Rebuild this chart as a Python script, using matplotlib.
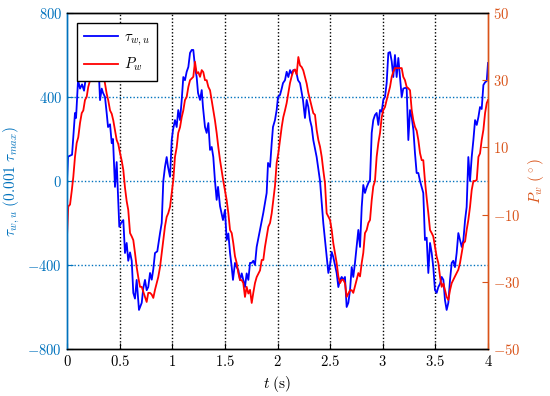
import matplotlib
matplotlib.use("Agg")
import matplotlib.pyplot as plt
from matplotlib.ticker import FuncFormatter

# ---------------- DATA ----------------

t_tau = [0.000, 0.010, 0.048, 0.076, 0.086, 0.105, 0.124, 0.143, 0.162, 0.181,
         0.200, 0.219, 0.238, 0.266, 0.285, 0.304, 0.314, 0.330, 0.342, 0.361,
         0.377, 0.390, 0.409, 0.425, 0.437, 0.456, 0.472, 0.497, 0.513, 0.535,
         0.551, 0.567, 0.582, 0.599, 0.615, 0.630, 0.646, 0.662, 0.684, 0.710,
         0.725, 0.741, 0.757, 0.772, 0.789, 0.805, 0.820, 0.836, 0.858, 0.884,
         0.900, 0.915, 0.931, 0.947, 0.960, 0.979, 0.995, 1.007, 1.026, 1.042,
         1.057, 1.074, 1.090, 1.105, 1.121, 1.137, 1.153, 1.169, 1.185, 1.200,
         1.216, 1.232, 1.245, 1.264, 1.280, 1.292, 1.311, 1.327, 1.343, 1.359,
         1.375, 1.390, 1.406, 1.422, 1.435, 1.454, 1.482, 1.501, 1.517, 1.533,
         1.549, 1.565, 1.577, 1.596, 1.612, 1.628, 1.644, 1.660, 1.691, 1.707,
         1.723, 1.739, 1.755, 1.770, 1.786, 1.802, 1.834, 1.865, 1.897, 1.905,
         1.910, 1.929, 1.945, 1.957, 1.976, 1.992, 2.005, 2.024, 2.040, 2.052,
         2.071, 2.087, 2.103, 2.119, 2.135, 2.150, 2.166, 2.182, 2.195, 2.214,
         2.230, 2.242, 2.261, 2.277, 2.293, 2.309, 2.325, 2.340, 2.372, 2.404,
         2.435, 2.467, 2.483, 2.499, 2.515, 2.530, 2.546, 2.562, 2.578, 2.594,
         2.610, 2.625, 2.641, 2.657, 2.673, 2.689, 2.705, 2.720, 2.736, 2.752,
         2.768, 2.784, 2.800, 2.815, 2.831, 2.847, 2.863, 2.879, 2.895, 2.910,
         2.926, 2.942, 2.958, 2.974, 2.990, 3.005, 3.021, 3.037, 3.053, 3.069,
         3.085, 3.100, 3.116, 3.132, 3.148, 3.164, 3.180, 3.195, 3.211, 3.227,
         3.243, 3.259, 3.275, 3.291, 3.306, 3.322, 3.338, 3.354, 3.385, 3.401,
         3.417, 3.433, 3.449, 3.465, 3.480, 3.496, 3.512, 3.528, 3.544, 3.560,
         3.576, 3.591, 3.607, 3.623, 3.639, 3.655, 3.670, 3.686, 3.702, 3.718,
         3.734, 3.750, 3.766, 3.782, 3.797, 3.813, 3.829, 3.845, 3.861, 3.877,
         3.893, 3.909, 3.924, 3.940, 3.956, 3.972, 3.988, 4.000]
tau_wu = [0, 116, 125, 324, 300, 480, 440, 460, 430, 500,
          560, 560, 600, 560, 520, 500, 385, 440, 420, 400,
          324, 257, 270, 180, 200, -28, 90, -218, -200, -186,
          -343, -295, -380, -340, -380, -533, -560, -471, -614, -580,
          -510, -471, -520, -505, -438, -470, -420, -343, -335, -248,
          -200, 0, 67, 114, 67, 20, 195, 243, 290, 257,
          338, 290, 386, 495, 480, 520, 543, 610, 624, 624,
          543, 495, 419, 386, 433, 352, 257, 229, 276, 148,
          162, 114, 0, -90, -28, -120, -186, -138, -281, -250,
          -343, -410, -471, -390, -410, -424, -471, -440, -505, -440,
          -471, -390, -390, -380, -400, -314, -233, -152, -57, 30,
          86, 67, 181, 257, 290, 338, 400, 410, 440, 466,
          480, 520, 495, 528, 510, 528, 528, 510, 480, 466,
          419, 386, 300, 386, 352, 290, 257, 195, 114, 0,
          -200, -362, -438, -400, -338, -362, -400, -438, -505, -471,
          -457, -471, -457, -600, -580, -520, -410, -457, -390, -314,
          -233, -314, -124, -19, -57, -30, -10, 5, 229, 290,
          314, 324, 267, 338, 330, 386, 400, 466, 610, 614,
          570, 495, 600, 495, 586, 495, 400, 440, 443, 443,
          195, 338, 305, 243, 133, 38, 38, 0, -57, -281,
          -270, -438, -295, -343, -410, -519, -533, -505, -490, -457,
          -471, -567, -614, -580, -471, -390, -380, -410, -343, -248,
          -281, -314, -281, -186, -124, 114, 0, 114, 195, 290,
          267, 305, 352, 343, 457, 470, 476, 562]

t_pw = [0.000, 0.012, 0.029, 0.045, 0.060, 0.076, 0.092, 0.107, 0.124, 0.140,
        0.155, 0.171, 0.187, 0.202, 0.219, 0.235, 0.250, 0.266, 0.282, 0.297,
        0.314, 0.330, 0.345, 0.361, 0.377, 0.392, 0.409, 0.425, 0.440, 0.456,
        0.472, 0.487, 0.504, 0.520, 0.535, 0.551, 0.567, 0.582, 0.599, 0.615,
        0.630, 0.646, 0.662, 0.677, 0.694, 0.710, 0.725, 0.741, 0.757, 0.772,
        0.789, 0.805, 0.820, 0.836, 0.852, 0.867, 0.884, 0.900, 0.915, 0.931,
        0.947, 0.962, 0.979, 0.995, 1.010, 1.026, 1.042, 1.057, 1.074, 1.090,
        1.105, 1.121, 1.137, 1.153, 1.169, 1.185, 1.200, 1.216, 1.232, 1.248,
        1.264, 1.280, 1.295, 1.311, 1.327, 1.343, 1.359, 1.375, 1.390, 1.406,
        1.422, 1.438, 1.454, 1.470, 1.485, 1.517, 1.533, 1.549, 1.565, 1.580,
        1.596, 1.612, 1.628, 1.644, 1.660, 1.675, 1.691, 1.707, 1.723, 1.739,
        1.755, 1.770, 1.786, 1.802, 1.818, 1.834, 1.850, 1.865, 1.881, 1.897,
        1.913, 1.929, 1.945, 1.960, 1.976, 1.992, 2.008, 2.024, 2.040, 2.055,
        2.071, 2.087, 2.103, 2.119, 2.135, 2.150, 2.166, 2.182, 2.198, 2.214,
        2.230, 2.245, 2.261, 2.277, 2.293, 2.309, 2.325, 2.340, 2.356, 2.372,
        2.388, 2.404, 2.420, 2.435, 2.451, 2.467, 2.483, 2.499, 2.515, 2.530,
        2.546, 2.562, 2.578, 2.594, 2.610, 2.625, 2.641, 2.657, 2.673, 2.689,
        2.705, 2.720, 2.736, 2.752, 2.768, 2.784, 2.800, 2.815, 2.831, 2.847,
        2.863, 2.879, 2.895, 2.910, 2.926, 2.942, 2.958, 2.974, 2.990, 3.005,
        3.021, 3.037, 3.053, 3.069, 3.085, 3.100, 3.116, 3.132, 3.148, 3.164,
        3.180, 3.195, 3.211, 3.227, 3.243, 3.259, 3.275, 3.291, 3.306, 3.322,
        3.338, 3.354, 3.370, 3.385, 3.401, 3.417, 3.433, 3.449, 3.465, 3.480,
        3.496, 3.512, 3.528, 3.544, 3.560, 3.576, 3.591, 3.607, 3.623, 3.639,
        3.655, 3.670, 3.686, 3.702, 3.718, 3.734, 3.750, 3.766, 3.782, 3.797,
        3.813, 3.829, 3.845, 3.861, 3.877, 3.893, 3.909, 3.924, 3.940, 3.956,
        3.972, 3.988, 4.000]
p_w = [-16.6, -7.6, -7.0, -3.0, 1.2, 7.2, 11.3, 13.0, 17.3, 20.2,
       21.0, 24.1, 25.0, 28.0, 30.0, 31.0, 31.5, 32.4, 33.6, 33.0,
       33.0, 32.4, 32.0, 29.0, 26.0, 24.0, 21.0, 20.0, 18.0, 15.0,
       12.2, 11.0, 8.3, 6.0, 3.3, -2.0, -6.0, -8.6, -15.5, -16.5,
       -17.6, -21.4, -25.6, -28.6, -31.5, -31.5, -33.0, -34.5, -36.0, -33.3,
       -33.3, -33.8, -34.8, -32.4, -30.4, -28.6, -25.6, -21.5, -17.6, -13.5,
       -10.7, -9.6, -7.7, -3.6, 0.3, 7.2, 10.0, 14.3, 16.0, 19.0,
       21.0, 24.1, 25.0, 28.0, 30.0, 30.5, 31.0, 35.5, 32.0, 32.4,
       31.0, 33.0, 32.4, 30.0, 30.0, 28.0, 27.0, 24.0, 21.0, 18.0,
       14.3, 10.0, 6.2, 3.0, 0.0, -5.7, -9.6, -14.6, -15.5, -18.5,
       -22.4, -24.4, -27.4, -29.5, -29.5, -30.4, -34.5, -31.5, -33.5, -32.4,
       -36.3, -33.3, -30.4, -28.6, -27.6, -26.6, -23.5, -23.5, -19.6, -16.6,
       -13.6, -12.5, -9.6, -5.6, -1.5, 5.4, 8.3, 12.2, 16.1, 19.0,
       21.0, 23.2, 26.2, 29.2, 31.2, 32.7, 33.2, 31.7, 36.9, 34.4,
       33.9, 32.9, 31.0, 29.0, 26.2, 24.1, 22.1, 20.2, 19.7, 15.2,
       12.2, 10.2, 7.2, 3.2, -0.6, -9.6, -10.6, -11.6, -14.6, -18.5,
       -21.5, -24.4, -28.4, -30.4, -29.4, -29.4, -30.4, -34.5, -33.5, -32.5,
       -32.5, -33.3, -31.4, -29.4, -27.4, -28.4, -24.4, -21.4, -15.5, -14.6,
       -12.5, -11.6, -5.7, -1.6, 0.0, 7.2, 11.3, 14.3, 19.0, 21.1,
       22.0, 24.1, 26.0, 28.0, 31.0, 32.5, 33.6, 33.6, 33.6, 33.6,
       33.6, 31.0, 30.0, 28.0, 27.6, 27.0, 21.1, 18.0, 16.1, 15.0,
       12.2, 8.3, 6.2, 6.2, 0.0, -5.0, -9.6, -14.6, -15.5, -16.5,
       -19.6, -22.5, -24.4, -28.5, -31.5, -30.5, -32.5, -34.5, -35.4, -32.5,
       -30.4, -29.4, -28.4, -27.4, -26.4, -24.4, -21.4, -18.5, -18.0, -14.6,
       -11.6, -7.7, -2.7, 0.0, 0.0, 0.3, 7.2, 8.2, 12.2, 15.2,
       20.2, 23.2, 24.1]

x_ticks = [0, 0.5, 1, 1.5, 2, 2.5, 3, 3.5, 4]
left_ticks = [-800, -400, 0, 400, 800]
right_ticks = [-50, -30, -10, 10, 30, 50]

# ---------------- STYLE ----------------

plt.rcParams['font.family'] = 'serif'
plt.rcParams['font.serif'] = ['cmr10', 'DejaVu Serif']
plt.rcParams['mathtext.fontset'] = 'cm'
plt.rcParams['axes.formatter.use_mathtext'] = True

left_col = '#0072BD'
right_col = '#D95319'

fmt = FuncFormatter(lambda v, p: '$%g$' % v)

# ---------------- FIGURE ----------------

fig = plt.figure(figsize=(5.5, 3.96), dpi=100)
ax = fig.add_axes([0.1218, 0.1187, 0.7655, 0.8485])
ax2 = ax.twinx()

l1, = ax.plot(t_tau, tau_wu, color='#0000FF', lw=1.3, label=r'$\tau_{w,u}$')
l2, = ax2.plot(t_pw, p_w, color='#FF0000', lw=1.3, label=r'$P_w$')

ax.set_xlim(0, 4)
ax.set_ylim(-800, 800)
ax2.set_ylim(-50, 50)

ax.set_xticks(x_ticks)
ax.set_yticks(left_ticks)
ax2.set_yticks(right_ticks)
ax.xaxis.set_major_formatter(fmt)
ax.yaxis.set_major_formatter(fmt)
ax2.yaxis.set_major_formatter(fmt)

# grid lines
dots = (0, (1, 1.5))
for xv in x_ticks[1:-1]:
    ax.axvline(xv, color='black', ls=dots, lw=1.0, zorder=0)
for yv in left_ticks[1:-1]:
    ax.axhline(yv, color=left_col, ls=dots, lw=1.0, zorder=0)

# spines and ticks
for a in (ax, ax2):
    a.spines['top'].set_color('black')
    a.spines['bottom'].set_color('black')
    a.spines['left'].set_color(left_col)
    a.spines['right'].set_color(right_col)
    for s in a.spines.values():
        s.set_linewidth(1.0)

ax.tick_params(axis='x', direction='in', labelsize=10.5, length=4,
               colors='black')
ax.tick_params(axis='y', direction='in', labelsize=10.5, length=4,
               colors=left_col)
ax2.tick_params(axis='y', direction='in', labelsize=10.5, length=4,
                colors=right_col)

ax.set_xlabel(r'$t\ \mathrm{(s)}$', fontsize=11)
ax.set_ylabel(r'$\tau_{w,u}\ \mathrm{(0.001}\ \tau_{max}\mathrm{)}$',
              fontsize=11, color=left_col)
ax2.set_ylabel(r'$P_w\ (^\circ)$', fontsize=11, color=right_col)

# ---------------- LEGEND ----------------

leg = ax2.legend(handles=[l1, l2], loc='upper left',
                 bbox_to_anchor=(0.024, 0.97), borderaxespad=0,
                 fancybox=False, framealpha=1, edgecolor='black',
                 fontsize=10.5, handlelength=2.3, handletextpad=0.4,
                 borderpad=0.5, labelspacing=0.55)
leg.get_frame().set_linewidth(1.0)

fig.savefig('out.png', dpi=100)
